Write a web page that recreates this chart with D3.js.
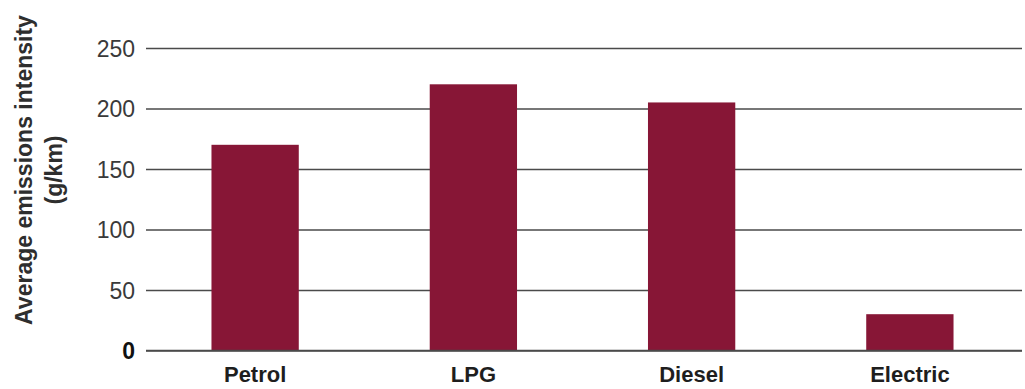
<!DOCTYPE html>
<html>
<head>
<meta charset="utf-8">
<script src="https://cdn.jsdelivr.net/npm/d3@7"></script>
<style>
  html, body { margin: 0; padding: 0; background: #fff; }
  svg { display: block; }
</style>
</head>
<body>
<svg id="chart" width="1025" height="389"></svg>
<script>
// Fuel types and their average emissions intensity (g/km)
const categories = ["Petrol", "LPG", "Diesel", "Electric"];
const values = [170, 220, 205, 30];
const yTicks = [0, 50, 100, 150, 200, 250];
const yTitle = ["Average emissions intensity", "(g/km)"];

const width = 1025, height = 389;
const margin = { top: 48, right: 3, bottom: 38, left: 146 };
const barColor = "#871636";
const font = "'Liberation Sans', Arial, sans-serif";

const svg = d3.select("#chart");

// Bars sit in a band range slightly narrower than the gridlines
const x = d3.scaleBand()
  .domain(categories)
  .range([margin.left, width - margin.right - 3])
  .paddingInner(0.6)
  .paddingOuter(0.3);

const y = d3.scaleLinear()
  .domain([0, 250])
  .range([height - margin.bottom - 0.5, margin.top]);

// Gridlines and tick labels
const yAxis = d3.axisLeft(y)
  .tickValues(yTicks)
  .tickSize(-(width - margin.right - margin.left))
  .tickPadding(11);

const gy = svg.append("g")
  .attr("transform", `translate(${margin.left},0)`)
  .call(yAxis);

gy.select(".domain").remove();
gy.selectAll(".tick line")
  .attr("stroke", "#4a4a4a")
  .attr("stroke-width", 1.3);
gy.selectAll(".tick text")
  .attr("font-family", font)
  .attr("font-size", 23)
  .attr("fill", "#3a3a3a")
  .attr("x", -11)
  .attr("dy", "0.36em");
gy.selectAll(".tick")
  .filter(d => d === 0)
  .select("text")
  .attr("font-weight", "bold")
  .attr("fill", "#111");

// Bars
svg.append("g")
  .selectAll("rect")
  .data(categories.map((c, i) => ({ c, v: values[i] })))
  .join("rect")
  .attr("x", d => x(d.c))
  .attr("width", x.bandwidth())
  .attr("y", d => y(d.v))
  .attr("height", d => y(0) - y(d.v))
  .attr("fill", barColor);

// Redraw the baseline over the bars
svg.append("line")
  .attr("x1", margin.left)
  .attr("x2", width - margin.right)
  .attr("y1", y(0))
  .attr("y2", y(0))
  .attr("stroke", "#4a4a4a")
  .attr("stroke-width", 1.3);

// Category labels
const xAxis = d3.axisBottom(x).tickSize(0).tickPadding(16);
const gx = svg.append("g")
  .attr("transform", `translate(0,${y(0)})`)
  .call(xAxis);
gx.select(".domain").remove();
gx.selectAll(".tick text")
  .attr("font-family", font)
  .attr("font-size", 22)
  .attr("font-weight", "bold")
  .attr("fill", "#1e1e1e");

// Y axis title
const title = svg.append("text")
  .attr("transform", `translate(32,${170}) rotate(-90)`)
  .attr("text-anchor", "middle")
  .attr("font-family", font)
  .attr("font-size", 23)
  .attr("font-weight", "bold")
  .attr("fill", "#2e2e2e");
title.selectAll("tspan")
  .data(yTitle)
  .join("tspan")
  .attr("x", 0)
  .attr("dy", (d, i) => i === 0 ? 0 : 30)
  .text(d => d);
</script>
</body>
</html>
